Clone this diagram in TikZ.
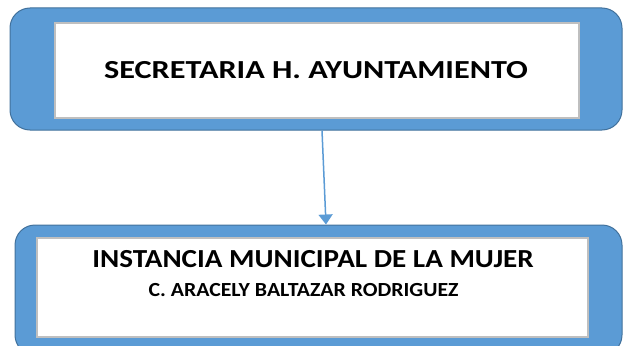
\documentclass[tikz,border=0pt]{standalone}
\usepackage{fontspec}
\setmainfont{Carlito}
\usetikzlibrary{arrows.meta}
\definecolor{boxblue}{HTML}{5B9BD5}
\definecolor{boxedge}{HTML}{41719C}
\definecolor{framegrey}{HTML}{BFBFBF}

\begin{document}
\begin{tikzpicture}[x=1pt, y=-1pt,
    outerbox/.style={rectangle, rounded corners=20pt, draw=boxedge, fill=boxblue, line width=1pt, inner sep=0pt},
    innerbox/.style={rectangle, draw=framegrey, fill=white, line width=1.5pt, inner sep=0pt},
    label/.style={anchor=base, inner sep=0pt, font=\fontsize{26}{30}\selectfont\bfseries},
    conn/.style={draw=boxblue, line width=1.5pt, -{Triangle[width=14pt, length=10pt]}}]
      \clip (0,0) rectangle (623,345);
      \useasboundingbox (0,0) rectangle (623,345);

      \node[outerbox, minimum width=612pt, minimum height=122pt] (secre) at (316,69) {};
      \node[innerbox, minimum width=524pt, minimum height=95pt] (secreIn) at (317,70.5) {};
      \node[label] (secreTxt) at (316,78.5) {\scalebox{1.24}[1]{SECRETARIA H. AYUNTAMIENTO}};

      \node[outerbox, minimum width=607pt, minimum height=130pt] (inst) at (318.5,290) {};
      \node[innerbox, minimum width=551pt, minimum height=99pt] (instIn) at (312.5,287.5) {};
      \node[label] (instTxt) at (313,267) {\scalebox{1.12}[1]{INSTANCIA MUNICIPAL DE LA MUJER}};
      \node[label, font=\fontsize{20}{24}\selectfont\bfseries] (instName) at (303.5,296) {\scalebox{1.09}[1]{C. ARACELY BALTAZAR RODRIGUEZ}};

      \draw[conn] ([xshift=6pt]secre.south) -- ([xshift=7.5pt]inst.north);
    \end{tikzpicture}
\end{document}
